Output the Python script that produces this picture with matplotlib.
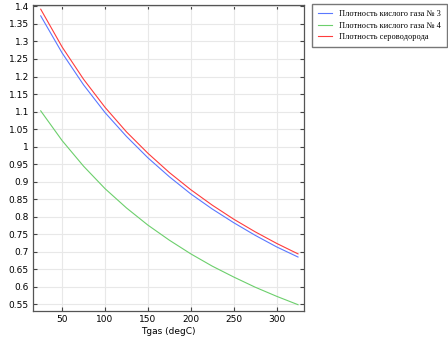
import matplotlib
matplotlib.use("Agg")
import matplotlib.pyplot as plt

# temperature, degC
tgas = [25, 50, 75, 100, 125, 150, 175, 200, 225, 250, 275, 300, 325]

# densities
rho_gas3 = [1.373, 1.267, 1.176, 1.097, 1.029, 0.968, 0.914, 0.865, 0.822, 0.783, 0.747, 0.714, 0.685]
rho_gas4 = [1.102, 1.017, 0.944, 0.880, 0.825, 0.776, 0.733, 0.694, 0.659, 0.628, 0.599, 0.573, 0.549]
rho_h2s = [1.392, 1.284, 1.192, 1.112, 1.042, 0.981, 0.926, 0.877, 0.833, 0.793, 0.757, 0.724, 0.694]

labels = ["Плотность кислого газа № 3", "Плотность кислого газа № 4", "Плотность сероводорода"]
xticks = [50, 100, 150, 200, 250, 300]
yticks = [0.55, 0.6, 0.65, 0.7, 0.75, 0.8, 0.85, 0.9, 0.95, 1, 1.05, 1.1, 1.15,
          1.2, 1.25, 1.3, 1.35, 1.4]

fig = plt.figure(figsize=(4.48, 3.37), dpi=100)
ax = fig.add_axes([33 / 448, 1 - 311 / 337, 271 / 448, 306 / 337])

lines = []
lines += ax.plot(tgas, rho_gas3, color="#5a78ff", lw=0.8)
lines += ax.plot(tgas, rho_gas4, color="#6ccf6c", lw=0.8)
lines += ax.plot(tgas, rho_h2s, color="#ff3c3c", lw=0.8)

ax.set_xlim(16, 332)
ax.set_ylim(0.531, 1.404)
ax.set_xticks(xticks)
ax.set_yticks(yticks)
ax.set_yticklabels(["%g" % v for v in yticks])
ax.tick_params(direction="in", length=3, width=0.8, labelsize=6.5, colors="#444444",
               top=True, right=True, labelcolor="black", pad=3)
ax.grid(True, color="#e8e8e8", lw=0.8)
ax.set_axisbelow(True)
for s in ax.spines.values():
    s.set_color("#555555")
    s.set_linewidth(0.9)

ax.set_xlabel("Tgas (degC)", fontsize=6.5, labelpad=2)

fig.legend(lines, labels, loc="upper left", bbox_to_anchor=(312 / 448, 1 - 4 / 337),
           prop={"family": "Liberation Serif", "size": 6.0}, frameon=True, fancybox=False,
           edgecolor="#555555", handlelength=1.7, handletextpad=0.85, borderpad=0.7,
           borderaxespad=0, labelspacing=0.45)

plt.savefig("out.png", dpi=100)
